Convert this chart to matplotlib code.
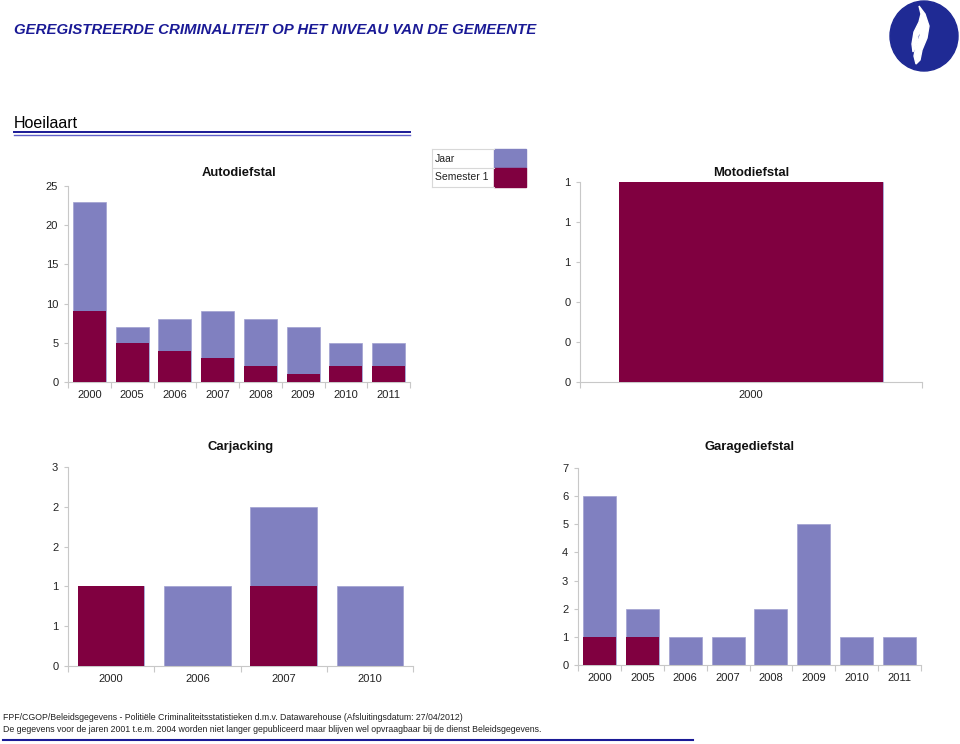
import math
import matplotlib
matplotlib.use("Agg")
import matplotlib.pyplot as plt
from matplotlib.patches import Rectangle, Ellipse, Polygon
from matplotlib.lines import Line2D
from matplotlib.ticker import FixedLocator, FuncFormatter

plt.rcParams['font.family'] = ['Liberation Sans', 'DejaVu Sans']

# data
auto_years = ['2000', '2005', '2006', '2007', '2008', '2009', '2010', '2011']
auto_jaar = [23, 7, 8, 9, 8, 7, 5, 5]
auto_sem1 = [9, 5, 4, 3, 2, 1, 2, 2]
auto_ticks = [0, 5, 10, 15, 20, 25]

moto_years = ['2000']
moto_jaar = [1]
moto_sem1 = [1]
moto_ticks = [0, 0.2, 0.4, 0.6, 0.8, 1.0]

car_years = ['2000', '2006', '2007', '2010']
car_jaar = [1, 1, 2, 1]
car_sem1 = [1, 0, 1, 0]
car_ticks = [0, 0.5, 1, 1.5, 2, 2.5]

garage_years = ['2000', '2005', '2006', '2007', '2008', '2009', '2010', '2011']
garage_jaar = [6, 2, 1, 1, 2, 5, 1, 1]
garage_sem1 = [1, 1, 0, 0, 0, 0, 0, 0]
garage_ticks = [0, 1, 2, 3, 4, 5, 6, 7]

JAAR = '#8080c0'
SEM = '#800040'
NAVY = '#1a1a96'
GRID = '#c8c8c8'

W, H = 960, 744
fig = plt.figure(figsize=(W / 100, H / 100), dpi=100)


def box(l, t, r, b):
    return [l / W, 1 - b / H, (r - l) / W, (b - t) / H]


def rounded(v, pos):
    return str(int(math.floor(v + 0.5)))


def panel(rect, title, years, jaar, sem1, ticks, title_y):
    ax = fig.add_axes(box(*rect))
    x = list(range(len(years)))
    ax.bar(x, jaar, width=0.77, color=JAAR, edgecolor='#a0a0d0', linewidth=0.5, zorder=2)
    ax.bar(x, sem1, width=0.77, color=SEM, linewidth=0, zorder=3)
    ax.set_xlim(-0.5, len(years) - 0.5)
    ax.set_ylim(ticks[0], ticks[-1])
    ax.yaxis.set_major_locator(FixedLocator(ticks))
    ax.yaxis.set_major_formatter(FuncFormatter(rounded))
    ax.set_xticks(x)
    ax.set_xticklabels(years)
    ax.set_xticks([i - 0.5 for i in range(len(years) + 1)], minor=True)
    ax.tick_params(axis='x', which='major', length=0, pad=6, labelsize=8, labelcolor='#222222')
    ax.tick_params(axis='x', which='minor', length=4, color=GRID, width=0.8)
    ax.tick_params(axis='y', length=3, color=GRID, width=0.8, labelsize=8, labelcolor='#222222', pad=4)
    for s in ['top', 'right']:
        ax.spines[s].set_visible(False)
    for s in ['left', 'bottom']:
        ax.spines[s].set_color(GRID)
        ax.spines[s].set_linewidth(0.8)
    fig.text((rect[0] + rect[2]) / 2 / W, 1 - title_y / H, title, ha='center', va='center',
             fontsize=9.4, fontweight='bold', color='#111111')
    return ax


panel((68, 186, 410, 382), 'Autodiefstal', auto_years, auto_jaar, auto_sem1, auto_ticks, 173)
panel((580, 182, 922, 382), 'Motodiefstal', moto_years, moto_jaar, moto_sem1, moto_ticks, 173)
panel((68, 467, 413, 666), 'Carjacking', car_years, car_jaar, car_sem1, car_ticks, 447)
panel((578, 468, 921, 665), 'Garagediefstal', garage_years, garage_jaar, garage_sem1, garage_ticks, 447)

# header
fig.text(14 / W, 1 - 30 / H, 'GEREGISTREERDE CRIMINALITEIT OP HET NIVEAU VAN DE GEMEENTE',
         fontsize=10.85, fontweight='bold', fontstyle='italic', color=NAVY, va='center', ha='left')
fig.text(14 / W, 1 - 128.5 / H, 'Hoeilaart', fontsize=11.5, color='black', va='baseline', ha='left')
fig.add_artist(Line2D([14 / W, 410 / W], [1 - 131.5 / H, 1 - 131.5 / H], color=NAVY, lw=1.4))
fig.add_artist(Line2D([14 / W, 410 / W], [1 - 134.5 / H, 1 - 134.5 / H], color='#6060c8', lw=1.0))

# logo
fig.add_artist(Ellipse((924 / W, 1 - 36 / H), 68 / W, 70 / H, color='#1f2a94'))
flame = [(919, 6), (925, 14), (929, 26), (927, 38), (922, 50), (920, 60), (916, 64),
         (914, 56), (916, 46), (920, 36), (920, 28), (917, 40), (913, 52), (912, 44),
         (914, 32), (919, 22), (921, 14)]
fig.add_artist(Polygon([(px / W, 1 - py / H) for px, py in flame], closed=True, color='white'))

# legend table
lx0, lx1, lx2 = 432, 494, 526
ly0, ly1, ly2 = 149, 168, 187
fig.add_artist(Rectangle((lx1 / W, 1 - ly1 / H), (lx2 - lx1) / W, (ly1 - ly0) / H, color=JAAR))
fig.add_artist(Rectangle((lx1 / W, 1 - ly2 / H), (lx2 - lx1) / W, (ly2 - ly1) / H, color=SEM))
for yy in [ly0, ly1, ly2]:
    fig.add_artist(Line2D([lx0 / W, lx1 / W], [1 - yy / H, 1 - yy / H], color='#d8d8d8', lw=0.8))
fig.add_artist(Line2D([lx0 / W, lx0 / W], [1 - ly0 / H, 1 - ly2 / H], color='#d8d8d8', lw=0.8))
fig.text((lx0 + 3) / W, 1 - (ly0 + ly1) / 2 / H, 'Jaar', fontsize=7.5, va='center', color='#222222')
fig.text((lx0 + 3) / W, 1 - (ly1 + ly2) / 2 / H, 'Semester 1', fontsize=7.5, va='center', color='#222222')

# footer
fig.text(3 / W, 1 - 717 / H,
         'FPF/CGOP/Beleidsgegevens - Politiële Criminaliteitsstatistieken d.m.v. Datawarehouse (Afsluitingsdatum: 27/04/2012)',
         fontsize=6.3, va='center', color='#222222')
fig.text(3 / W, 1 - 729 / H,
         'De gegevens voor de jaren 2001 t.e.m. 2004 worden niet langer gepubliceerd maar blijven wel opvraagbaar bij de dienst Beleidsgegevens.',
         fontsize=6.3, va='center', color='#222222')
fig.add_artist(Line2D([3 / W, 693 / W], [1 - 740 / H, 1 - 740 / H], color=NAVY, lw=1.5))

fig.savefig('out.png', dpi=100)
